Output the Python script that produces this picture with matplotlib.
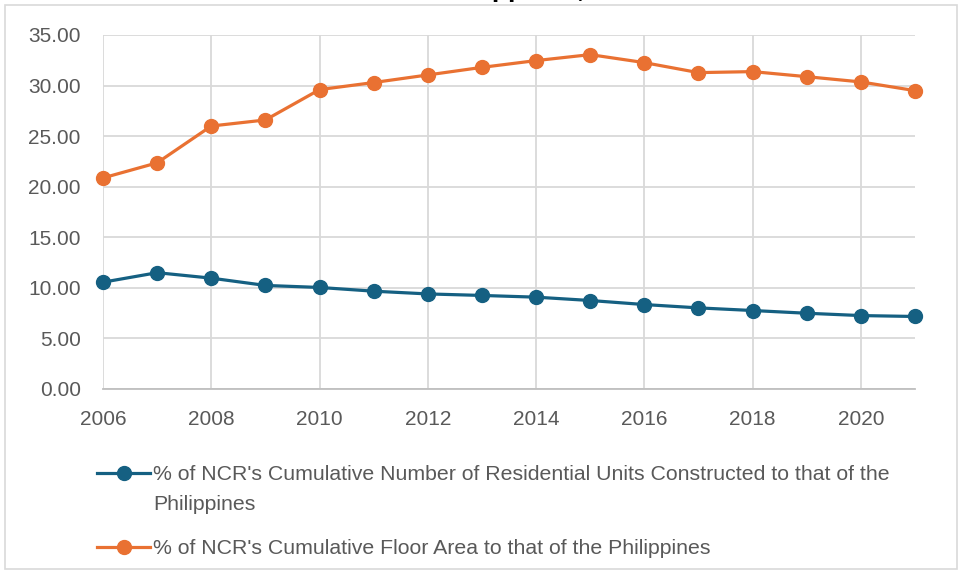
import matplotlib.pyplot as plt
from matplotlib.patches import Rectangle

years = list(range(2006, 2022))
units_share = [10.56, 11.50, 10.96, 10.24, 10.04, 9.67, 9.40, 9.25,
               9.08, 8.75, 8.35, 8.02, 7.76, 7.49, 7.26, 7.17]
floor_share = [20.87, 22.36, 26.00, 26.60, 29.60, 30.30, 31.05, 31.80,
               32.47, 33.06, 32.27, 31.28, 31.38, 30.88, 30.36, 29.50]
units_label = "% of NCR's Cumulative Number of Residential Units Constructed to that of the"
units_label_2 = "Philippines"
floor_label = "% of NCR's Cumulative Floor Area to that of the Philippines"
yticks = [0, 5, 10, 15, 20, 25, 30, 35]
xticks = list(range(2006, 2021, 2))

blue = '#156082'
orange = '#E97132'
grey_txt = '#595959'

plt.rcParams['font.family'] = ['Liberation Sans', 'DejaVu Sans']

fig = plt.figure(figsize=(9.59, 5.79), dpi=100)
ax = fig.add_axes([103 / 959, 1 - 389 / 579, (915 - 103) / 959, (389 - 35) / 579])

ax.plot(years, units_share, color=blue, lw=2.3, marker='o', ms=10,
        clip_on=False, zorder=3, label=units_label)
ax.plot(years, floor_share, color=orange, lw=2.3, marker='o', ms=10,
        clip_on=False, zorder=3, label=floor_label)

ax.set_xlim(2006, 2021)
ax.set_ylim(0, 35)
ax.set_yticks(yticks)
ax.set_yticklabels(['%.2f' % v for v in yticks])
ax.set_xticks(xticks)
ax.grid(True, color='#d9d9d9', lw=1.3)
ax.set_axisbelow(True)
for s in ['top', 'right', 'left']:
    ax.spines[s].set_visible(False)
ax.spines['bottom'].set_color('#bfbfbf')
ax.spines['bottom'].set_linewidth(1.3)
ax.tick_params(length=0, labelsize=15, colors=grey_txt)
ax.tick_params(axis='y', pad=16)
ax.tick_params(axis='x', pad=15)

# legend: handles on the first line of each label, second line of the
# long label added as plain text below it
fig.legend(loc='upper left', bbox_to_anchor=(97 / 959, 1 - 465 / 579),
           frameon=False, borderpad=0, borderaxespad=0, fontsize=15.3,
           handlelength=2.5, handletextpad=0.15, labelspacing=2.6,
           labelcolor=grey_txt)
fig.text(153 / 959, 1 - 504 / 579, units_label_2, fontsize=15.3,
         color=grey_txt, ha='left', va='center')

# outer frame of the screenshot
fig.patches.append(Rectangle((5 / 959, 1 - 569 / 579), 952 / 959, 564 / 579,
                             transform=fig.transFigure, fill=False,
                             edgecolor='#d9d9d9', lw=1.2))

# title mostly cut off at the top edge
fig.text(436 / 959, 1.0047, "Philippines, 2006-2021", fontsize=19,
         fontweight='bold', ha='left', va='baseline')

fig.savefig('out.png', dpi=100)
